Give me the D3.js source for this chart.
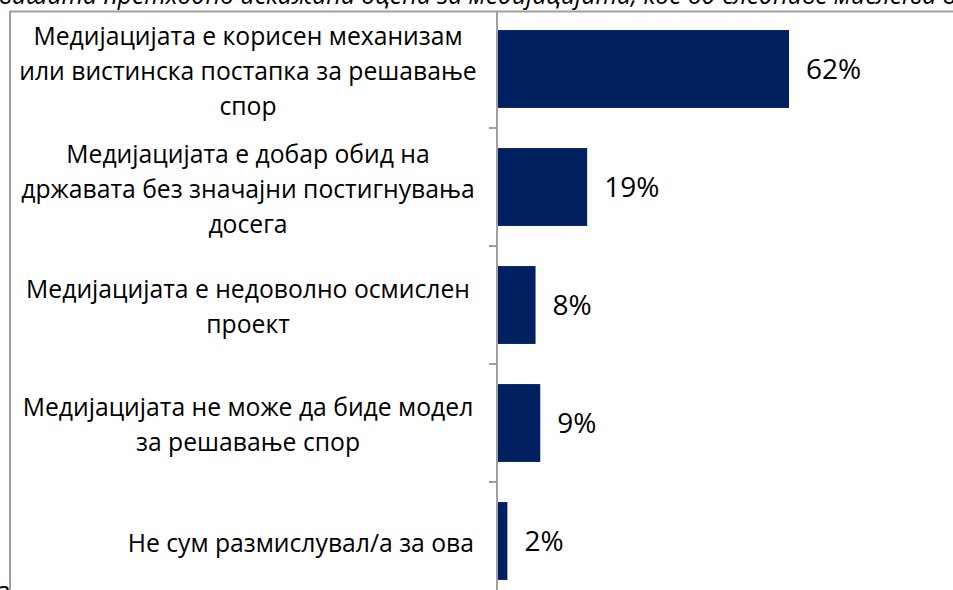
<!DOCTYPE html>
<html>
<head>
<meta charset="utf-8">
<script src="https://cdn.jsdelivr.net/npm/d3@7"></script>
<style>
  body { margin: 0; background: #fff; }
  svg { display: block; font-family: "Open Sans", sans-serif; }
</style>
</head>
<body>
<svg width="953" height="590"></svg>
<script>
// data
var categories = [
    "Медијацијата е корисен механизам\nили вистинска постапка за решавање\nспор",
    "Медијацијата е добар обид на\nдржавата без значајни постигнувања\nдосега",
    "Медијацијата е недоволно осмислен\nпроект",
    "Медијацијата не може да биде модел\nза решавање спор",
    "Не сум размислувал/а за ова"
];
var values = [62, 19, 8, 9, 2];
var titlePrefix = "Имајќи ја предвид вашата ";
var titleText = "претходно искажана оцена за медијацијата, кое од следниве мислења ви е најблиску?";

var svg = d3.select("svg"),
    width = +svg.attr("width"),
    height = +svg.attr("height"),
    axisX = 497,
    barColor = "#00205f",
    frameColor = "#a0a0a0";

// fit label font so that a reference line matches the picture width
var probe = svg.append("text").style("font-size", "100px").text("Медијацијата е недоволно осмислен");
var labelSize = 100 * 444 / probe.node().getComputedTextLength();
probe.remove();

var xScale = d3.scaleLinear().domain([0, 62]).range([axisX + 1, 789]);
var yScale = d3.scaleBand().domain(categories).range([10, 600])
    .paddingInner(0.34).paddingOuter(0.17);

// title (cut off at top edge)
var pre = svg.append("text").style("font-size", labelSize + "px").style("font-style", "italic").text(titlePrefix);
var preW = pre.node().getComputedTextLength();
pre.remove();
svg.append("text")
    .attr("x", 97 - preW)
    .attr("y", 4)
    .style("font-size", labelSize + "px")
    .style("font-style", "italic")
    .attr("fill", "#000")
    .text(titlePrefix + titleText);

// frame
svg.append("path")
    .attr("d", "M10,600V11.5H960")
    .attr("fill", "none")
    .attr("stroke", frameColor)
    .attr("stroke-width", 2);

// bars
svg.selectAll(".bar")
    .data(values)
    .enter().append("rect")
    .attr("class", "bar")
    .attr("x", xScale(0))
    .attr("y", function (d, i) { return yScale(categories[i]); })
    .attr("width", function (d) { return xScale(d) - xScale(0); })
    .attr("height", yScale.bandwidth())
    .attr("fill", barColor);

// value labels
svg.selectAll(".value")
    .data(values)
    .enter().append("text")
    .attr("class", "value")
    .attr("x", function (d) { return xScale(d) + 17; })
    .attr("y", function (d, i) { return yScale(categories[i]) + yScale.bandwidth() / 2; })
    .attr("dy", "0.36em")
    .style("font-size", "28px")
    .attr("fill", "#000")
    .text(function (d) { return d + "%"; });

// axis line with ticks between categories
var yAxis = d3.axisLeft(yScale).tickSize(0).tickFormat("");
var gY = svg.append("g")
    .attr("transform", "translate(" + axisX + ",0)")
    .call(yAxis);
gY.select(".domain").remove();
gY.append("line")
    .attr("y1", 11).attr("y2", height)
    .attr("stroke", frameColor).attr("stroke-width", 2);
var step = yScale.step();
gY.selectAll(".sep")
    .data(categories.slice(1))
    .enter().append("line")
    .attr("class", "sep")
    .attr("x1", -8).attr("x2", 0)
    .attr("y1", function (d) { return yScale(d) - (step - yScale.bandwidth()) / 2; })
    .attr("y2", function (d) { return yScale(d) - (step - yScale.bandwidth()) / 2; })
    .attr("stroke", frameColor).attr("stroke-width", 2);

// category labels
var lineH = 35;
var labels = svg.selectAll(".cat")
    .data(categories)
    .enter().append("text")
    .attr("class", "cat")
    .style("font-size", labelSize + "px")
    .attr("fill", "#000");

labels.each(function (d) {
    var lines = d.split("\n"),
        cy = yScale(d) + yScale.bandwidth() / 2,
        t = d3.select(this),
        multi = lines.length > 1;
    t.attr("text-anchor", multi ? "middle" : "end");
    lines.forEach(function (ln, i) {
        t.append("tspan")
            .attr("x", multi ? 248 : 474)
            .attr("y", cy + (i - (lines.length - 1) / 2) * lineH + 2)
            .attr("dy", "0.36em")
            .text(ln);
    });
});

// cut-off text under the frame
svg.append("text")
    .attr("x", -3)
    .attr("y", 600)
    .style("font-size", labelSize + "px")
    .text("а");
</script>
</body>
</html>
